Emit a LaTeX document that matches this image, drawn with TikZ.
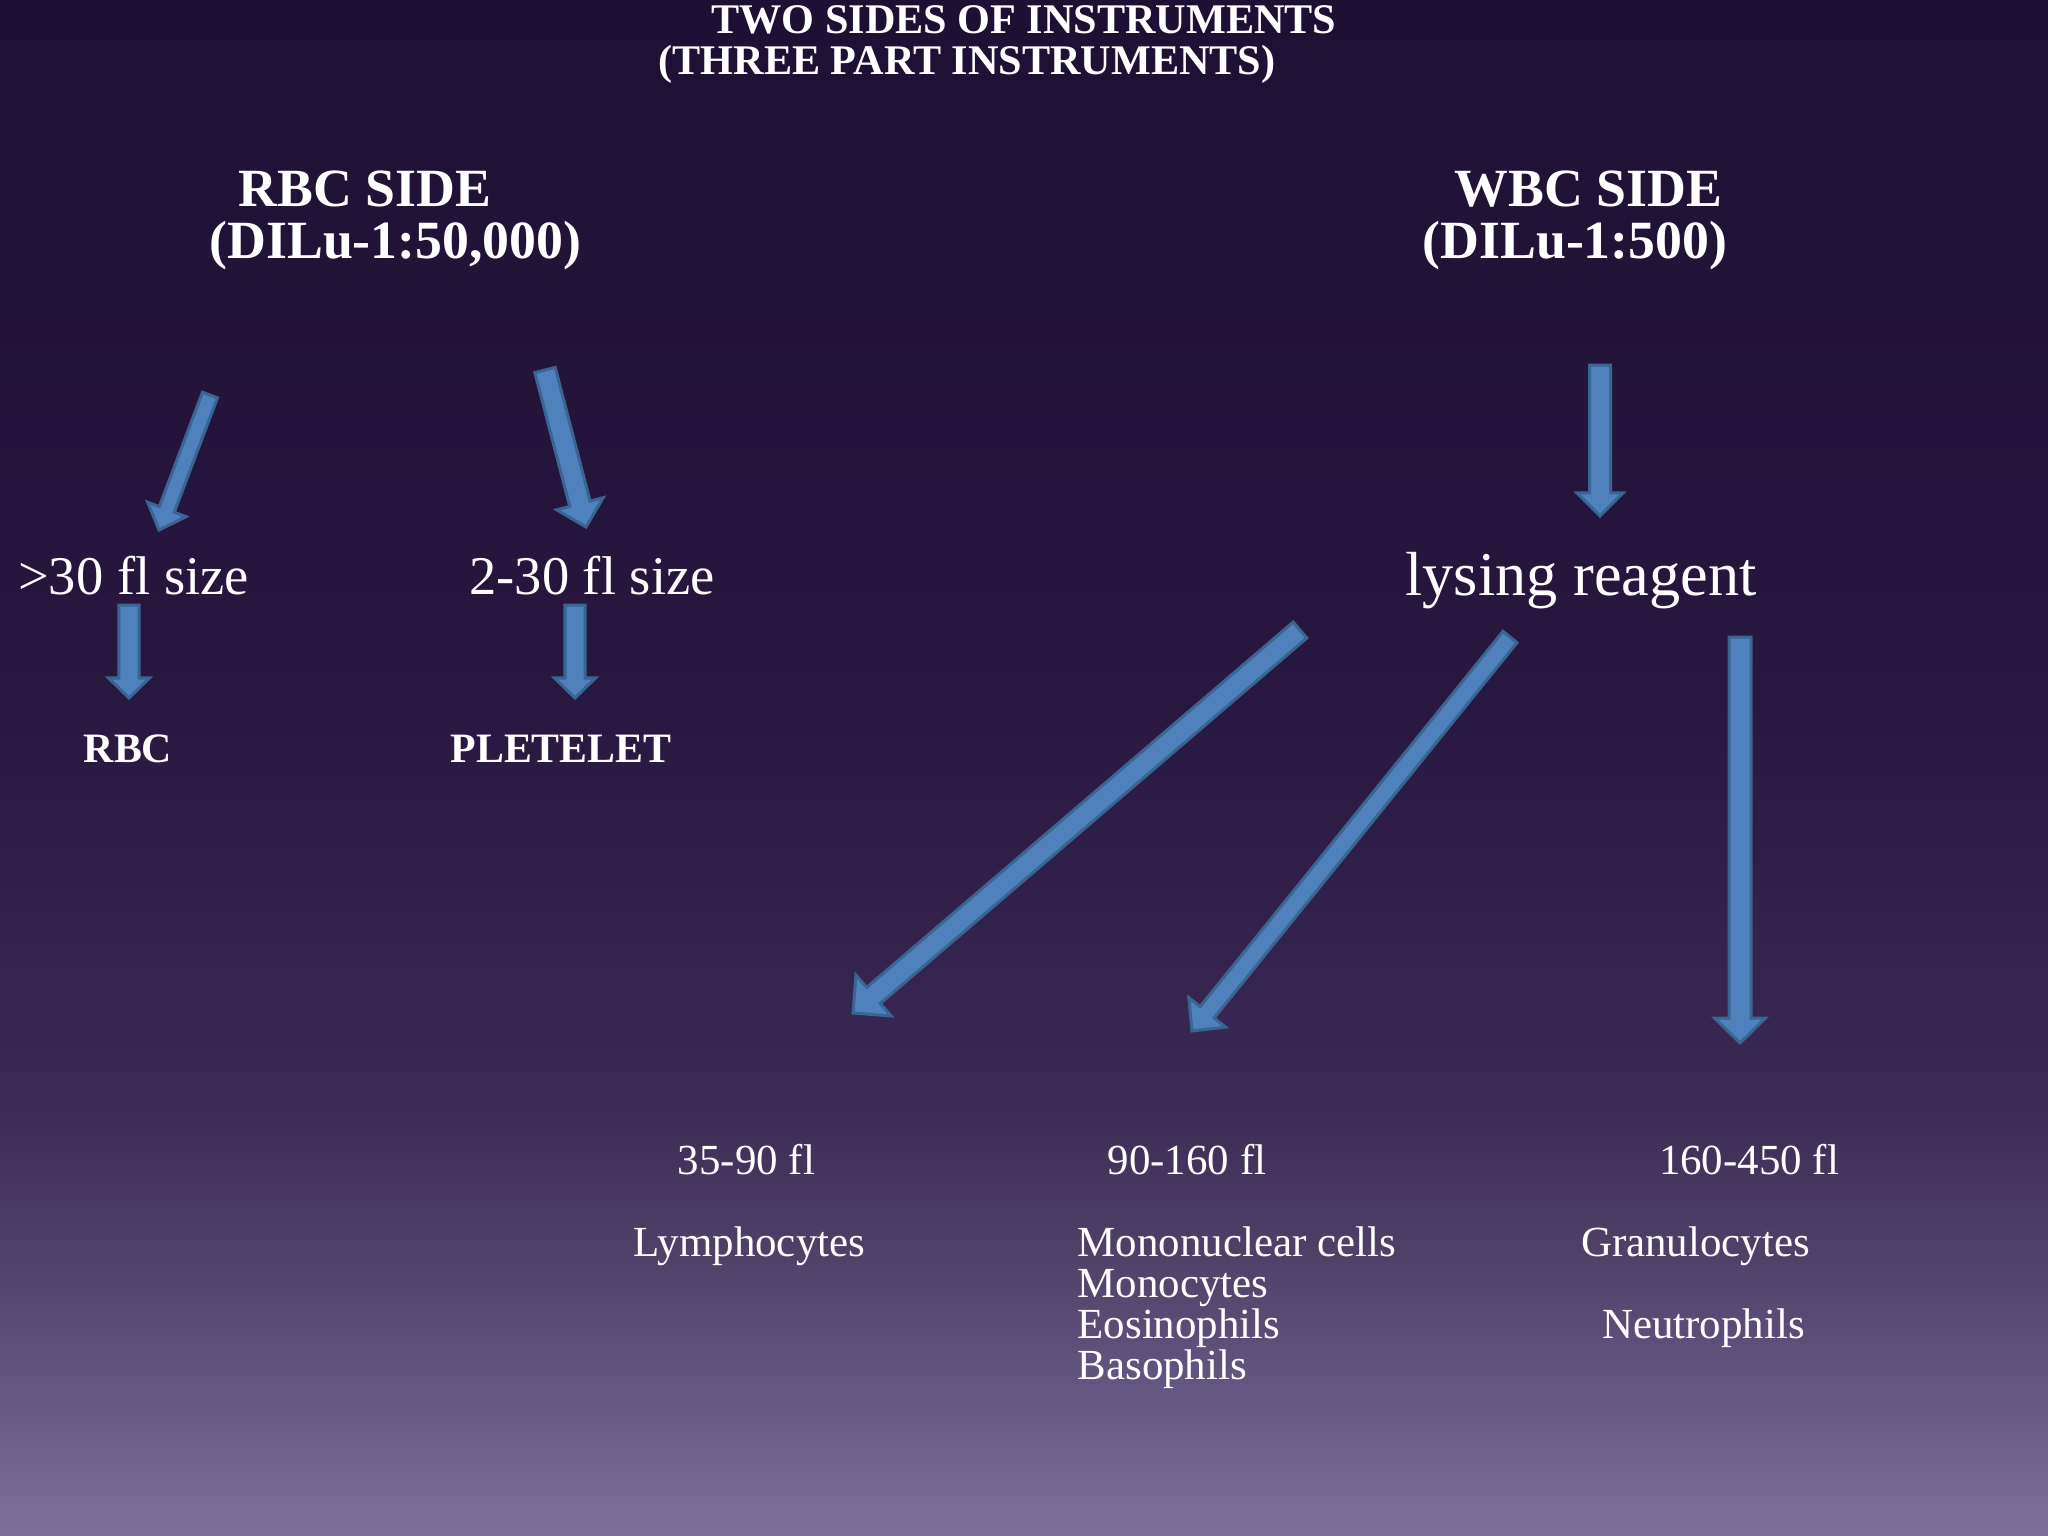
\documentclass[tikz,border=0pt]{standalone}
\usepackage{fontspec}
\setmainfont{Liberation Serif}
\usetikzlibrary{calc}
\definecolor{arrowfill}{HTML}{4F81BD}
\definecolor{arrowedge}{HTML}{3A6593}
\definecolor{bgA}{HTML}{1E1034}
\definecolor{bgB}{HTML}{28173F}
\definecolor{bgC}{HTML}{3A2A55}
\definecolor{bgD}{HTML}{4F4068}
\definecolor{bgE}{HTML}{655884}
\definecolor{bgF}{HTML}{776B95}
\definecolor{bgG}{HTML}{7C7099}
\pgfdeclareverticalshading{bgshade}{100bp}{color(0bp)=(bgG); color(25bp)=(bgG); color(26.17bp)=(bgF); color(29.43bp)=(bgE); color(34.31bp)=(bgD); color(39.19bp)=(bgC); color(52.21bp)=(bgB); color(75bp)=(bgA); color(100bp)=(bgA)}
\tikzset{
  txt/.style={text=white, inner sep=0pt, anchor=base},
  titletxt/.style={txt, font=\bfseries\fontsize{12}{14}\selectfont},
  headtxt/.style={txt, font=\bfseries\fontsize{15.3}{18}\selectfont},
  sizetxt/.style={txt, font=\fontsize{15.5}{18}\selectfont},
  celltxt/.style={txt, font=\bfseries\fontsize{11.9}{14}\selectfont},
  lystxt/.style={txt, font=\fontsize{17.7}{20}\selectfont},
  bottxt/.style={txt, font=\fontsize{12.2}{14}\selectfont},
  blockarrow/.style={fill=arrowfill, draw=arrowedge, line width=0.03cm, line join=miter}
}
\newcommand{\blockarrow}[5]{%
  \coordinate (ba-b) at ($(#2)!#5!(#1)$);
  \draw[blockarrow] ($(#1)!#3!90:(#2)$) -- ($(ba-b)!#3!90:(#2)$) -- ($(ba-b)!#4!90:(#2)$) -- (#2) -- ($(ba-b)!#4!-90:(#2)$) -- ($(ba-b)!#3!-90:(#2)$) -- ($(#1)!#3!-90:(#2)$) -- cycle;
}
\begin{document}
\begin{tikzpicture}[x=0.01cm, y=-0.01cm]
\useasboundingbox (0,0) rectangle (2048,1536);
\shade[shading=bgshade] (0,0) rectangle (2048,1536);

% titles
\node[titletxt] (t1) at (1024,33) {TWO SIDES OF INSTRUMENTS};
\node[titletxt] (t2) at (967,74) {(THREE PART INSTRUMENTS)};

\node[headtxt] (rbcside) at (365,206) {RBC SIDE};
\node[headtxt] (rbcdil) at (395.5,258) {(DILu-1:50,000)};
\node[headtxt] (wbcside) at (1588.5,206) {WBC SIDE};
\node[headtxt] (wbcdil) at (1575,258) {(DILu-1:500)};

\node[sizetxt] (big) at (133.5,594) {>30 fl size};
\node[sizetxt] (small) at (592,594) {2-30 fl size};
\node[celltxt] (rbc) at (128,762) {RBC};
\node[celltxt] (plt) at (561,762) {PLETELET};

\node[lystxt] (lys) at (1581,595) {lysing reagent};

\node[bottxt] (r1) at (746.5,1174) {35-90 fl};
\node[bottxt] (r2) at (1187,1174) {90-160 fl};
\node[bottxt] (r3) at (1749,1174) {160-450 fl};
\node[bottxt] (lym) at (749.5,1256) {Lymphocytes};
\node[bottxt, anchor=base west] (m1) at (1077,1256) {Mononuclear cells};
\node[bottxt, anchor=base west] (m2) at (1077,1297) {Monocytes};
\node[bottxt, anchor=base west] (m3) at (1077,1338) {Eosinophils};
\node[bottxt, anchor=base west] (m4) at (1077,1379) {Basophils};
\node[bottxt] (gra) at (1695.5,1256) {Granulocytes};
\node[bottxt] (neu) at (1703.5,1338) {Neutrophils};

% arrow end points
\coordinate (a1s) at (210,395);  \coordinate (a1e) at (159,530);
\coordinate (a2s) at (545,370);  \coordinate (a2e) at (586,527);
\coordinate (a3s) at (129,605);  \coordinate (a3e) at (129,698);
\coordinate (a4s) at (575,605);  \coordinate (a4e) at (575,698);
\coordinate (a5s) at (1600,365); \coordinate (a5e) at (1600,516);
\coordinate (a6s) at (1300,630); \coordinate (a6e) at (853,1013);
\coordinate (a7s) at (1510,637); \coordinate (a7e) at (1192,1031);
\coordinate (a8s) at (1740,637); \coordinate (a8e) at (1740,1043);

\blockarrow{a1s}{a1e}{0.08cm}{0.205cm}{0.22cm}
\blockarrow{a2s}{a2e}{0.105cm}{0.24cm}{0.24cm}
\blockarrow{a3s}{a3e}{0.10cm}{0.205cm}{0.20cm}
\blockarrow{a4s}{a4e}{0.10cm}{0.205cm}{0.20cm}
\blockarrow{a5s}{a5e}{0.105cm}{0.23cm}{0.23cm}
\blockarrow{a6s}{a6e}{0.105cm}{0.27cm}{0.27cm}
\blockarrow{a7s}{a7e}{0.09cm}{0.235cm}{0.24cm}
\blockarrow{a8s}{a8e}{0.11cm}{0.255cm}{0.25cm}
\end{tikzpicture}
\end{document}
